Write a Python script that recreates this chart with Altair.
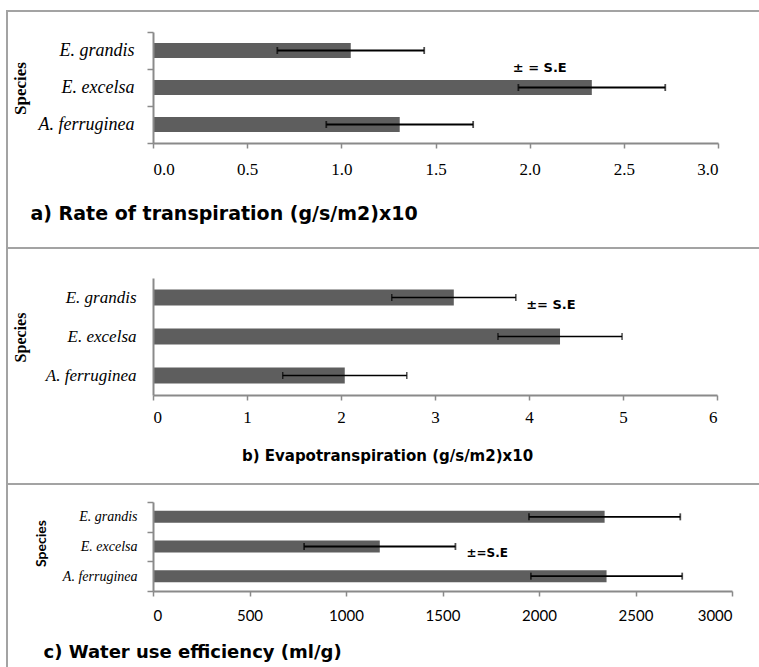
import altair as alt
import pandas as pd

# ---------------- data ----------------
species = ["E. grandis", "E. excelsa", "A. ferruginea"]

transp_mean = [1.05, 2.33, 1.31]
transp_se = [0.39, 0.39, 0.39]

evapo_mean = [3.20, 4.33, 2.04]
evapo_se = [0.66, 0.66, 0.66]

wue_mean = [2340, 1175, 2350]
wue_se = [392, 392, 392]

a_ticks = [0.0, 0.5, 1.0, 1.5, 2.0, 2.5, 3.0]
b_ticks = [0, 1, 2, 3, 4, 5, 6]
c_ticks = [0, 500, 1000, 1500, 2000, 2500, 3000]

panel_titles = [
    "a) Rate of transpiration (g/s/m2)x10",
    "b) Evapotranspiration (g/s/m2)x10",
    "c) Water use efficiency (ml/g)",
]
se_texts = ["\u00b1 = S.E", "\u00b1= S.E", "\u00b1=S.E"]
se_x = [1.91, 3.97, 1624]
se_species = ["E. excelsa", "E. grandis", "E. excelsa"]

# ---------------- style ----------------
BAR = "#5e5e5e"
AXIS = "#8a8a8a"
BORDER = "#a3a3a3"
TOTAL_W = 759
OX = 153
SERIF = "Liberation Serif"
SANS_B = "DejaVu Sans"


def panel(mean, se, domain, ticks, fmt, title, se_text, sx, sspec, sdy,
          oy, W, H, bar_size, reg_top, reg_bot, border_top,
          tick_font, tick_size, tick_pad,
          ylab_size, ylab_pad, ytick_size,
          sp_font, sp_size, sp_x, sp_y,
          t_size, t_x, t_y, t_align, se_size, err_w):
    ox = OX
    df = pd.DataFrame({"species": species, "mean": mean, "se": se})
    ysc = alt.Scale(domain=species, paddingInner=0, paddingOuter=0)
    xsc = alt.Scale(domain=domain, nice=False, zero=True)

    xaxis = alt.Axis(
        values=ticks, format=fmt, grid=False, zindex=1,
        domainColor=AXIS, domainWidth=2, tickColor=AXIS, tickWidth=1.5, tickSize=5,
        labelFont=tick_font, labelFontSize=tick_size, labelColor="black", labelPadding=tick_pad,
        title=title, titleFont=SANS_B, titleFontWeight="bold", titleFontSize=t_size,
        titleColor="black", titleX=t_x, titleY=t_y, titleAlign=t_align,
        titleBaseline="middle", titleAngle=0,
    )
    yaxis = alt.Axis(
        grid=False, zindex=1, domainColor=AXIS, domainWidth=2,
        ticks=ytick_size > 0, tickColor=AXIS, tickWidth=1.5, tickSize=ytick_size,
        tickBand="extent",
        labelFont=SERIF, labelFontStyle="italic", labelFontSize=ylab_size,
        labelColor="black", labelPadding=ylab_pad,
        title="Species", titleFont=sp_font, titleFontWeight="bold", titleFontSize=sp_size,
        titleColor="black", titleAngle=270, titleX=sp_x, titleY=sp_y,
        titleAlign="center", titleBaseline="middle",
    )

    def X(field):
        return alt.X(field, scale=xsc, axis=xaxis)

    def Y():
        return alt.Y("species:N", scale=ysc, sort=species, axis=yaxis)

    deco = alt.Chart(pd.DataFrame({"k": [0]}))
    bg = deco.mark_rect(fill="white", strokeWidth=0).encode(
        x=alt.value(-ox), x2=alt.value(TOTAL_W - ox),
        y=alt.value(reg_top - oy), y2=alt.value(reg_bot - oy))
    top_line = deco.mark_rect(fill=BORDER).encode(
        x=alt.value(6 - ox), x2=alt.value(TOTAL_W - ox),
        y=alt.value(border_top - oy), y2=alt.value(border_top + 2 - oy))
    left_line = deco.mark_rect(fill=BORDER).encode(
        x=alt.value(6 - ox), x2=alt.value(8 - ox),
        y=alt.value(border_top - oy), y2=alt.value(reg_bot - oy))

    base = alt.Chart(df)
    bars = base.mark_bar(color=BAR, size=bar_size).encode(x=X("mean:Q"), y=Y())
    eb = base.transform_calculate(
        lo="datum.mean - datum.se", hi="datum.mean + datum.se")
    rule = eb.mark_rule(color="black", strokeWidth=err_w).encode(
        x=X("lo:Q"), x2="hi:Q", y=Y())
    cap_lo = eb.mark_tick(color="black", size=7, thickness=err_w).encode(
        x=X("lo:Q"), y=Y())
    cap_hi = eb.mark_tick(color="black", size=7, thickness=err_w).encode(
        x=X("hi:Q"), y=Y())
    se_df = pd.DataFrame({"x": [sx], "species": [sspec], "label": [se_text]})
    se_mark = alt.Chart(se_df).mark_text(
        font=SANS_B, fontWeight="bold", fontSize=se_size, align="left",
        baseline="middle", dy=sdy, color="black").encode(
        x=X("x:Q"), y=Y(), text="label:N")

    return alt.layer(bg, top_line, left_line, bars, rule, cap_lo, cap_hi, se_mark).properties(
        width=W, height=H)


pa = panel(transp_mean, transp_se, [0, 3], a_ticks, ".1f", panel_titles[0],
           se_texts[0], se_x[0], se_species[0], -20,
           oy=32, W=565, H=111, bar_size=15, reg_top=0, reg_bot=247, border_top=10,
           tick_font=SERIF, tick_size=17, tick_pad=13,
           ylab_size=18, ylab_pad=13, ytick_size=6,
           sp_font=SERIF, sp_size=17, sp_x=-133, sp_y=56,
           t_size=19, t_x=-123, t_y=70, t_align="left", se_size=13, err_w=1.8)

pb = panel(evapo_mean, evapo_se, [0, 6], b_ticks, "d", panel_titles[1],
           se_texts[1], se_x[1], se_species[1], 7,
           oy=278, W=564, H=117, bar_size=16, reg_top=247, reg_bot=483, border_top=247,
           tick_font=SERIF, tick_size=17, tick_pad=9,
           ylab_size=17, ylab_pad=17, ytick_size=0,
           sp_font=SERIF, sp_size=16, sp_x=-133, sp_y=59,
           t_size=15, t_x=234, t_y=60, t_align="center", se_size=13, err_w=1.5)

pc = panel(wue_mean, wue_se, [0, 3000], c_ticks, "d", panel_titles[2],
           se_texts[2], se_x[2], se_species[2], 6,
           oy=502, W=579, H=89, bar_size=12, reg_top=483, reg_bot=667, border_top=483,
           tick_font="Lato", tick_size=15, tick_pad=12,
           ylab_size=14, ylab_pad=10, ytick_size=6,
           sp_font="Lato", sp_size=14, sp_x=-112, sp_y=41,
           t_size=18, t_x=-110, t_y=61, t_align="left", se_size=12, err_w=1.8)

chart = alt.vconcat(pa, pb, pc, spacing=0).properties(
    padding=0, background="white"
).configure_view(stroke=None)

chart.save("out.html", embed_options={"renderer": "svg", "actions": False})
